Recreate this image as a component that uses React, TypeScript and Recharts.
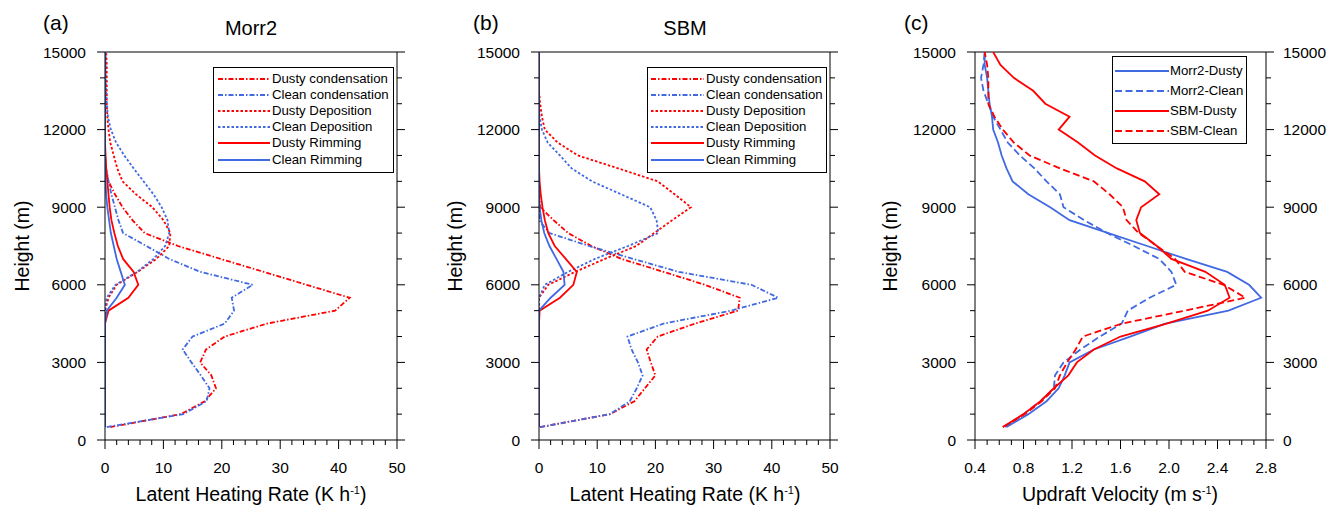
import React from 'react';
import { LineChart, Line, XAxis, YAxis, ReferenceLine } from 'recharts';

// heights (m) of the profile levels
const heights = [500, 1000, 1500, 2000, 2500, 3000, 3500, 4000, 4500, 5000, 5500, 6000, 6500, 7000, 7500, 8000, 8500, 9000, 9500, 10000, 10500, 11000, 11500, 12000, 12500, 13000, 13500, 14000, 14500, 15000];

// (a) Morr2 latent heating (K/h)
const morrDustyCond = [0.9, 13.0, 17.1, 19.0, 18.2, 16.3, 17.3, 20.5, 27.7, 39.4, 41.9, 34.5, 27.2, 19.8, 12.5, 6.8, 4.7, 3.0, 1.7, 0.6, 0.1, 0, 0, 0, 0, 0, 0, 0, 0, 0];
const morrCleanCond = [0.3, 13.4, 17.4, 17.9, 16.4, 14.8, 13.3, 15.0, 20.5, 22.1, 21.7, 25.3, 16.3, 11.0, 7.1, 3.1, 2.3, 1.7, 1.1, 0.6, 0.2, 0, 0, 0, 0, 0, 0, 0, 0, 0];
const morrDustyDep = [0, 0, 0, 0, 0, 0, 0, 0, 0, 0, 0.6, 2.0, 5.6, 8.8, 11.0, 11.2, 10.0, 8.1, 5.3, 3.0, 2.1, 1.5, 0.9, 0.6, 0.4, 0.3, 0.3, 0.3, 0.3, 0.2];
const morrCleanDep = [0, 0, 0, 0, 0, 0, 0, 0, 0, 0, 0.3, 1.8, 5.5, 8.3, 10.3, 11.0, 10.7, 9.7, 8.3, 6.6, 4.9, 3.3, 1.9, 1.0, 0.5, 0.3, 0.2, 0.1, 0.1, 0.1];
const morrDustyRim = [0, 0, 0, 0, 0, 0, 0, 0, 0, 0.6, 4.0, 5.7, 4.9, 3.1, 2.2, 1.6, 1.1, 0.8, 0.6, 0.4, 0.2, 0.1, 0, 0, 0, 0, 0, 0, 0, 0];
const morrCleanRim = [0, 0, 0, 0, 0, 0, 0, 0, 0, 0.3, 2.0, 3.4, 2.7, 2.0, 1.5, 1.0, 0.7, 0.4, 0.2, 0.1, 0, 0, 0, 0, 0, 0, 0, 0, 0, 0];

// (b) SBM latent heating (K/h)
const sbmDustyCond = [0.2, 12.2, 16.4, 18.2, 20.0, 19.2, 18.5, 20.4, 26.8, 34.2, 34.5, 28.5, 21.4, 14.2, 9.0, 5.0, 2.5, 0.2, 0, 0, 0, 0, 0, 0, 0, 0, 0, 0, 0, 0];
const sbmCleanCond = [0.2, 12.2, 15.6, 16.8, 17.8, 17.0, 15.9, 15.2, 21.4, 33.0, 41.1, 36.5, 24.0, 16.2, 8.6, 1.8, 0, 0, 0, 0, 0, 0, 0, 0, 0, 0, 0, 0, 0, 0];
const sbmDustyDep = [0, 0, 0, 0, 0, 0, 0, 0, 0, 0, 0, 1.6, 6.2, 11.3, 16.7, 19.8, 22.9, 26.1, 23.3, 20.4, 13.6, 6.7, 3.2, 1.0, 0.5, 0.2, 0, 0, 0, 0];
const sbmCleanDep = [0, 0, 0, 0, 0, 0, 0, 0, 0, 0, 0, 1.0, 5.0, 9.6, 15.3, 20.5, 20.2, 19.1, 14.1, 9.1, 5.6, 3.6, 1.5, 0.5, 0.1, 0, 0, 0, 0, 0];
const sbmDustyRim = [0, 0, 0, 0, 0, 0, 0, 0, 0, 0.1, 3.6, 5.9, 6.5, 4.6, 2.7, 1.6, 1.0, 0.6, 0.3, 0.1, 0, 0, 0, 0, 0, 0, 0, 0, 0, 0];
const sbmCleanRim = [0, 0, 0, 0, 0, 0, 0, 0, 0, 0, 2.0, 4.4, 4.2, 3.0, 1.8, 0.9, 0.4, 0.1, 0, 0, 0, 0, 0, 0, 0, 0, 0, 0, 0, 0];

// (c) updraft velocity (m/s)
const morr2Dusty = [0.66, 0.84, 0.99, 1.09, 1.14, 1.18, 1.38, 1.68, 1.97, 2.49, 2.76, 2.66, 2.48, 2.14, 1.82, 1.50, 1.18, 1.02, 0.84, 0.71, 0.66, 0.62, 0.59, 0.55, 0.54, 0.52, 0.51, 0.50, 0.48, 0.48];
const morr2Clean = [0.65, 0.80, 0.94, 1.05, 1.06, 1.13, 1.27, 1.43, 1.61, 1.66, 1.84, 2.06, 2.02, 1.92, 1.71, 1.49, 1.30, 1.13, 1.10, 0.99, 0.89, 0.77, 0.67, 0.61, 0.55, 0.51, 0.47, 0.45, 0.47, 0.48];
const sbmDusty = [0.63, 0.80, 0.94, 1.05, 1.17, 1.24, 1.38, 1.60, 1.98, 2.32, 2.50, 2.46, 2.30, 2.02, 1.90, 1.76, 1.73, 1.77, 1.92, 1.80, 1.57, 1.39, 1.25, 1.09, 1.18, 0.98, 0.88, 0.72, 0.61, 0.55];
const sbmClean = [0.63, 0.81, 0.95, 1.06, 1.10, 1.16, 1.23, 1.29, 1.61, 2.13, 2.63, 2.45, 2.13, 2.05, 1.90, 1.75, 1.65, 1.62, 1.51, 1.38, 1.10, 0.85, 0.72, 0.63, 0.56, 0.51, 0.51, 0.51, 0.50, 0.48];

const heightTicks = [0, 1000, 2000, 3000, 4000, 5000, 6000, 7000, 8000, 9000, 10000, 11000, 12000, 13000, 14000, 15000];
const latentTicks = [0, 2, 4, 6, 8, 10, 12, 14, 16, 18, 20, 22, 24, 26, 28, 30, 32, 34, 36, 38, 40, 42, 44, 46, 48, 50];
const velocityTicks = [0.4, 0.5, 0.6, 0.7, 0.8, 0.9, 1.0, 1.1, 1.2, 1.3, 1.4, 1.5, 1.6, 1.7, 1.8, 1.9, 2.0, 2.1, 2.2, 2.3, 2.4, 2.5, 2.6, 2.7, 2.8];

const RED = '#ff0000';
const BLUE = '#4169e1';
const FONT = '"Liberation Sans", Arial, Helvetica, sans-serif';
const DASH_DOT = '5 2 1.5 2';
const DOTTED = '2.5 2';
const DASHED = '7 3.5';

const latentSeries = [
  { key: 'dc', name: 'Dusty condensation', color: RED, dash: DASH_DOT },
  { key: 'cc', name: 'Clean condensation', color: BLUE, dash: DASH_DOT },
  { key: 'dd', name: 'Dusty Deposition', color: RED, dash: DOTTED },
  { key: 'cd', name: 'Clean Deposition', color: BLUE, dash: DOTTED },
  { key: 'dr', name: 'Dusty Rimming', color: RED, dash: undefined },
  { key: 'cr', name: 'Clean Rimming', color: BLUE, dash: undefined },
];

const velocitySeries = [
  { key: 'md', name: 'Morr2-Dusty', color: BLUE, dash: undefined },
  { key: 'mc', name: 'Morr2-Clean', color: BLUE, dash: DASHED },
  { key: 'sd', name: 'SBM-Dusty', color: RED, dash: undefined },
  { key: 'sc', name: 'SBM-Clean', color: RED, dash: DASHED },
];

function buildRows(cols: Record<string, number[]>) {
  return heights.map((h, i) => {
    const row: Record<string, number> = { h };
    Object.keys(cols).forEach((k) => {
      row[k] = cols[k][i];
    });
    return row;
  });
}

const morrRows = buildRows({ dc: morrDustyCond, cc: morrCleanCond, dd: morrDustyDep, cd: morrCleanDep, dr: morrDustyRim, cr: morrCleanRim });
const sbmRows = buildRows({ dc: sbmDustyCond, cc: sbmCleanCond, dd: sbmDustyDep, cd: sbmCleanDep, dr: sbmDustyRim, cr: sbmCleanRim });
const velRows = buildRows({ md: morr2Dusty, mc: morr2Clean, sd: sbmDusty, sc: sbmClean });

const PLOT_TOP = 52;
const PLOT_BOTTOM = 440;
const CHART_H = 506;
// axes get a 1px band; a 0-sized axis is not drawn at all
const AXIS_BAND = 1;

const tickText = { fontSize: 15.5, fontFamily: FONT, fill: '#000' };

const leftTick = (labels: boolean) => (props: any) => {
  const { x, y, payload } = props;
  const v = payload.value;
  const major = v % 3000 === 0;
  return (
    <g>
      <line x1={x} x2={x - (major ? 8 : 5)} y1={y} y2={y} stroke="#000" />
      {major && labels && (
        <text x={x - 19} y={y + 5.5} textAnchor="end" {...tickText}>{v}</text>
      )}
    </g>
  );
};

const rightTick = (labels: boolean) => (props: any) => {
  const { x, y, payload } = props;
  const v = payload.value;
  const major = v % 3000 === 0;
  return (
    <g>
      <line x1={x} x2={x + (major ? 8 : 5)} y1={y} y2={y} stroke="#000" />
      {major && labels && (
        <text x={x + 17} y={y + 5.5} textAnchor="start" {...tickText}>{v}</text>
      )}
    </g>
  );
};

const bottomTick = (isMajor: (v: number) => boolean, fmt: (v: number) => string) => (props: any) => {
  const { x, y, payload } = props;
  const v = payload.value;
  const major = isMajor(v);
  return (
    <g>
      <line x1={x} x2={x} y1={y} y2={y + (major ? 9 : 5)} stroke="#000" />
      {major && (
        <text x={x} y={y + 32.5} textAnchor="middle" {...tickText}>{fmt(v)}</text>
      )}
    </g>
  );
};

interface PanelProps {
  left: number;
  width: number;
  plotLeft: number;
  plotRight: number;
  rows: Record<string, number>[];
  series: { key: string; name: string; color: string; dash?: string }[];
  domain: [number, number];
  xTicks: number[];
  isMajor: (v: number) => boolean;
  fmt: (v: number) => string;
  rightLabels: boolean;
}

function Panel(p: PanelProps) {
  return (
    <div style={{ position: 'absolute', left: p.left, top: 0 }}>
      <LineChart
        layout="vertical"
        width={p.width}
        height={CHART_H}
        data={p.rows}
        margin={{
          top: PLOT_TOP,
          bottom: CHART_H - PLOT_BOTTOM - AXIS_BAND,
          left: p.plotLeft - p.left - AXIS_BAND,
          right: p.left + p.width - p.plotRight - AXIS_BAND,
        }}
      >
        <XAxis
          type="number"
          domain={p.domain}
          ticks={p.xTicks}
          interval={0}
          height={AXIS_BAND}
          tickSize={0}
          tickMargin={0}
          tickLine={false}
          axisLine={{ stroke: '#000' }}
          tick={bottomTick(p.isMajor, p.fmt)}
          allowDataOverflow
        />
        <YAxis
          type="number"
          dataKey="h"
          domain={[0, 15000]}
          ticks={heightTicks}
          interval={0}
          reversed
          width={AXIS_BAND}
          tickSize={0}
          tickMargin={0}
          tickLine={false}
          axisLine={{ stroke: '#000' }}
          tick={leftTick(true)}
          allowDataOverflow
        />
        <YAxis
          yAxisId="r"
          orientation="right"
          type="number"
          dataKey="h"
          domain={[0, 15000]}
          ticks={heightTicks}
          interval={0}
          reversed
          width={AXIS_BAND}
          tickSize={0}
          tickMargin={0}
          tickLine={false}
          axisLine={{ stroke: '#000' }}
          tick={rightTick(p.rightLabels)}
          allowDataOverflow
        />
        <ReferenceLine y={15000} stroke="#000" />
        {p.series.map((s) => (
          <Line
            key={s.key}
            type="linear"
            dataKey={s.key}
            name={s.name}
            stroke={s.color}
            strokeWidth={1.8}
            strokeDasharray={s.dash}
            dot={false}
            activeDot={false}
            isAnimationActive={false}
          />
        ))}
      </LineChart>
    </div>
  );
}

interface LegendProps {
  box: { left: number; top: number; width: number; height: number };
  series: { key: string; name: string; color: string; dash?: string }[];
  lineFrom: number;
  lineTo: number;
  textX: number;
  firstY: number;
  step: number;
}

function LegendBox(p: LegendProps) {
  return (
    <>
      <div
        style={{
          position: 'absolute',
          left: p.box.left,
          top: p.box.top,
          width: p.box.width,
          height: p.box.height,
          border: '1px solid #000',
          boxSizing: 'border-box',
          background: '#fff',
        }}
      />
      {p.series.map((s, i) => {
        const cy = p.firstY + i * p.step;
        return (
          <div key={s.key}>
            <svg
              style={{ position: 'absolute', left: p.lineFrom, top: cy - 2 }}
              width={p.lineTo - p.lineFrom}
              height={4}
            >
              <line x1={0} x2={p.lineTo - p.lineFrom} y1={2} y2={2} stroke={s.color} strokeWidth={1.8} strokeDasharray={s.dash} />
            </svg>
            <div
              style={{
                position: 'absolute',
                left: p.textX,
                top: cy - 8,
                height: 16,
                lineHeight: '16px',
                fontSize: 13.2,
                fontFamily: FONT,
                color: '#000',
                whiteSpace: 'nowrap',
              }}
            >
              {s.name}
            </div>
          </div>
        );
      })}
    </>
  );
}

const text = (extra: React.CSSProperties): React.CSSProperties => ({
  position: 'absolute',
  fontFamily: FONT,
  color: '#000',
  whiteSpace: 'nowrap',
  ...extra,
});

function YTitle({ cx }: { cx: number }) {
  return (
    <div style={text({ left: cx, top: 246, fontSize: 19.5, lineHeight: '20px', transform: 'translate(-50%, -50%) rotate(-90deg)' })}>
      Height (m)
    </div>
  );
}

function XTitle({ cx, label, unit }: { cx: number; label: string; unit: string }) {
  return (
    <div style={text({ left: cx, top: 484, fontSize: 19.5, lineHeight: '20px', transform: 'translateX(-50%)' })}>
      {label} ({unit}
      <sup style={{ fontSize: 11, verticalAlign: 'top', position: 'relative', top: -4 }}>-1</sup>)
    </div>
  );
}

const latentMajor = (v: number) => v % 10 === 0;
const latentFmt = (v: number) => String(v);
const velMajor = (v: number) => Math.round(v * 10) % 4 === 0;
const velFmt = (v: number) => v.toFixed(1);

export default function App() {
  return (
    <div style={{ position: 'absolute', left: 0, top: 0, width: 1330, height: 506, background: '#fff', overflow: 'hidden' }}>
      <Panel left={0} width={440} plotLeft={105} plotRight={397} rows={morrRows} series={latentSeries} domain={[0, 50]} xTicks={latentTicks} isMajor={latentMajor} fmt={latentFmt} rightLabels={false} />
      <Panel left={440} width={440} plotLeft={539} plotRight={830} rows={sbmRows} series={latentSeries} domain={[0, 50]} xTicks={latentTicks} isMajor={latentMajor} fmt={latentFmt} rightLabels={false} />
      <Panel left={880} width={450} plotLeft={975} plotRight={1266} rows={velRows} series={velocitySeries} domain={[0.4, 2.8]} xTicks={velocityTicks} isMajor={velMajor} fmt={velFmt} rightLabels={true} />

      <LegendBox box={{ left: 213, top: 67, width: 181, height: 106 }} series={latentSeries} lineFrom={218} lineTo={270} textX={272} firstY={79} step={16.1} />
      <LegendBox box={{ left: 647, top: 67, width: 180, height: 106 }} series={latentSeries} lineFrom={651} lineTo={704} textX={706} firstY={79} step={16.1} />
      <LegendBox box={{ left: 1112, top: 56, width: 135, height: 88 }} series={velocitySeries} lineFrom={1115} lineTo={1169} textX={1170} firstY={71} step={20} />

      <div style={text({ left: 43, top: 12, fontSize: 21, lineHeight: '21px' })}>(a)</div>
      <div style={text({ left: 473, top: 12, fontSize: 21, lineHeight: '21px' })}>(b)</div>
      <div style={text({ left: 904, top: 12, fontSize: 21, lineHeight: '21px' })}>(c)</div>
      <div style={text({ left: 251, top: 18, fontSize: 20, lineHeight: '20px', transform: 'translateX(-50%)' })}>Morr2</div>
      <div style={text({ left: 685, top: 18, fontSize: 20, lineHeight: '20px', transform: 'translateX(-50%)' })}>SBM</div>

      <YTitle cx={21.5} />
      <YTitle cx={455} />
      <YTitle cx={890} />
      <XTitle cx={251} label="Latent Heating Rate" unit="K h" />
      <XTitle cx={685} label="Latent Heating Rate" unit="K h" />
      <XTitle cx={1120} label="Updraft Velocity" unit="m s" />
    </div>
  );
}
